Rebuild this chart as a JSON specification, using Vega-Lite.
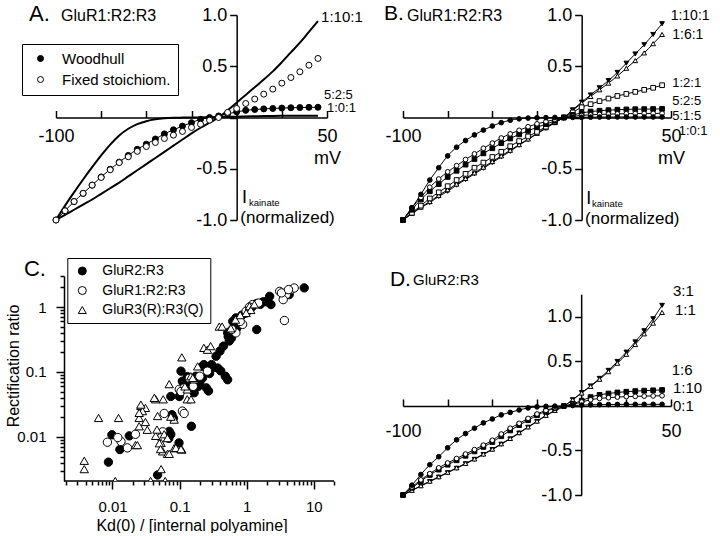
{
"$schema": "https://vega.github.io/schema/vega-lite/v6.json",
"padding": {"left": 5, "top": 3, "right": 0, "bottom": 0},
"bounds": "flush",
"columns": 2,
"spacing": {"row": 56, "column": 69},
"config": {"font": "Liberation Sans", "view": {"stroke": null}, "axis": {"grid": false, "domainColor": "black", "tickColor": "black", "labelColor": "black", "titleColor": "black", "labelFont": "Liberation Sans", "titleFont": "Liberation Sans", "titleFontWeight": "normal", "labelFlush": false, "labelOverlap": false, "domainWidth": 1.5, "tickWidth": 1.5}, "legend": {"labelFont": "Liberation Sans", "labelColor": "black"}},
"resolve": {"scale": {"fill": "independent", "shape": "independent", "stroke": "independent"}},
"datasets": {
"one": [{}],
"aL": [
{"s":"1:10:1","v":-100,"i":-1},{"s":"1:10:1","v":-95,"i":-0.95},{"s":"1:10:1","v":-90,"i":-0.9},{"s":"1:10:1","v":-85,"i":-0.85},{"s":"1:10:1","v":-80,"i":-0.8},{"s":"1:10:1","v":-75,"i":-0.745},{"s":"1:10:1","v":-70,"i":-0.69},{"s":"1:10:1","v":-65,"i":-0.635},{"s":"1:10:1","v":-60,"i":-0.575},{"s":"1:10:1","v":-55,"i":-0.515},{"s":"1:10:1","v":-50,"i":-0.455},{"s":"1:10:1","v":-45,"i":-0.395},{"s":"1:10:1","v":-40,"i":-0.335},{"s":"1:10:1","v":-35,"i":-0.275},{"s":"1:10:1","v":-30,"i":-0.215},{"s":"1:10:1","v":-25,"i":-0.155},{"s":"1:10:1","v":-20,"i":-0.1},{"s":"1:10:1","v":-15,"i":-0.05},{"s":"1:10:1","v":-10,"i":0},{"s":"1:10:1","v":-5,"i":0.07},{"s":"1:10:1","v":0,"i":0.145},{"s":"1:10:1","v":5,"i":0.22},{"s":"1:10:1","v":10,"i":0.295},{"s":"1:10:1","v":15,"i":0.37},{"s":"1:10:1","v":20,"i":0.45},{"s":"1:10:1","v":25,"i":0.54},{"s":"1:10:1","v":30,"i":0.635},{"s":"1:10:1","v":35,"i":0.73},{"s":"1:10:1","v":40,"i":0.835},{"s":"1:10:1","v":45,"i":0.94},
{"s":"1:0:1","v":-100,"i":-1},{"s":"1:0:1","v":-95,"i":-0.86},{"s":"1:0:1","v":-90,"i":-0.73},{"s":"1:0:1","v":-85,"i":-0.605},{"s":"1:0:1","v":-80,"i":-0.485},{"s":"1:0:1","v":-75,"i":-0.37},{"s":"1:0:1","v":-70,"i":-0.265},{"s":"1:0:1","v":-65,"i":-0.175},{"s":"1:0:1","v":-60,"i":-0.11},{"s":"1:0:1","v":-55,"i":-0.065},{"s":"1:0:1","v":-50,"i":-0.036},{"s":"1:0:1","v":-45,"i":-0.018},{"s":"1:0:1","v":-40,"i":-0.008},{"s":"1:0:1","v":-35,"i":-0.003},{"s":"1:0:1","v":-30,"i":-0.001},{"s":"1:0:1","v":-25,"i":0},{"s":"1:0:1","v":-20,"i":0.001},{"s":"1:0:1","v":-15,"i":0.002},{"s":"1:0:1","v":-10,"i":0.004},{"s":"1:0:1","v":-5,"i":0.006},{"s":"1:0:1","v":0,"i":0.008},{"s":"1:0:1","v":5,"i":0.01},{"s":"1:0:1","v":10,"i":0.012},{"s":"1:0:1","v":15,"i":0.014},{"s":"1:0:1","v":20,"i":0.015},{"s":"1:0:1","v":25,"i":0.016},{"s":"1:0:1","v":30,"i":0.017},{"s":"1:0:1","v":35,"i":0.018},{"s":"1:0:1","v":40,"i":0.018},{"s":"1:0:1","v":45,"i":0.018}
],
"aP": [
{"s":"Woodhull","v":-100,"i":-1},{"s":"Woodhull","v":-95,"i":-0.91},{"s":"Woodhull","v":-90,"i":-0.82},{"s":"Woodhull","v":-85,"i":-0.74},{"s":"Woodhull","v":-80,"i":-0.66},{"s":"Woodhull","v":-75,"i":-0.58},{"s":"Woodhull","v":-70,"i":-0.505},{"s":"Woodhull","v":-65,"i":-0.435},{"s":"Woodhull","v":-60,"i":-0.37},{"s":"Woodhull","v":-55,"i":-0.31},{"s":"Woodhull","v":-50,"i":-0.26},{"s":"Woodhull","v":-45,"i":-0.21},{"s":"Woodhull","v":-40,"i":-0.16},{"s":"Woodhull","v":-35,"i":-0.12},{"s":"Woodhull","v":-30,"i":-0.084},{"s":"Woodhull","v":-25,"i":-0.05},{"s":"Woodhull","v":-20,"i":-0.018},{"s":"Woodhull","v":-15,"i":0},{"s":"Woodhull","v":-10,"i":0.015},{"s":"Woodhull","v":-5,"i":0.035},{"s":"Woodhull","v":0,"i":0.055},{"s":"Woodhull","v":5,"i":0.07},{"s":"Woodhull","v":10,"i":0.078},{"s":"Woodhull","v":15,"i":0.084},{"s":"Woodhull","v":20,"i":0.088},{"s":"Woodhull","v":25,"i":0.092},{"s":"Woodhull","v":30,"i":0.095},{"s":"Woodhull","v":35,"i":0.097},{"s":"Woodhull","v":40,"i":0.099},{"s":"Woodhull","v":45,"i":0.1},
{"s":"Fixed stoichiom.","v":-100,"i":-1},{"s":"Fixed stoichiom.","v":-95,"i":-0.91},{"s":"Fixed stoichiom.","v":-90,"i":-0.82},{"s":"Fixed stoichiom.","v":-85,"i":-0.74},{"s":"Fixed stoichiom.","v":-80,"i":-0.66},{"s":"Fixed stoichiom.","v":-75,"i":-0.585},{"s":"Fixed stoichiom.","v":-70,"i":-0.51},{"s":"Fixed stoichiom.","v":-65,"i":-0.44},{"s":"Fixed stoichiom.","v":-60,"i":-0.383},{"s":"Fixed stoichiom.","v":-55,"i":-0.33},{"s":"Fixed stoichiom.","v":-50,"i":-0.283},{"s":"Fixed stoichiom.","v":-45,"i":-0.244},{"s":"Fixed stoichiom.","v":-40,"i":-0.205},{"s":"Fixed stoichiom.","v":-35,"i":-0.172},{"s":"Fixed stoichiom.","v":-30,"i":-0.136},{"s":"Fixed stoichiom.","v":-25,"i":-0.097},{"s":"Fixed stoichiom.","v":-20,"i":-0.065},{"s":"Fixed stoichiom.","v":-15,"i":-0.026},{"s":"Fixed stoichiom.","v":-10,"i":0},{"s":"Fixed stoichiom.","v":-5,"i":0.05},{"s":"Fixed stoichiom.","v":0,"i":0.088},{"s":"Fixed stoichiom.","v":5,"i":0.137},{"s":"Fixed stoichiom.","v":10,"i":0.18},{"s":"Fixed stoichiom.","v":15,"i":0.228},{"s":"Fixed stoichiom.","v":20,"i":0.277},{"s":"Fixed stoichiom.","v":25,"i":0.335},{"s":"Fixed stoichiom.","v":30,"i":0.39},{"s":"Fixed stoichiom.","v":35,"i":0.446},{"s":"Fixed stoichiom.","v":40,"i":0.51},{"s":"Fixed stoichiom.","v":45,"i":0.576}
],
"b": [
{"s":"1:10:1","v":-100,"i":-1},{"s":"1:10:1","v":-95,"i":-0.94},{"s":"1:10:1","v":-90,"i":-0.88},{"s":"1:10:1","v":-85,"i":-0.83},{"s":"1:10:1","v":-80,"i":-0.77},{"s":"1:10:1","v":-75,"i":-0.72},{"s":"1:10:1","v":-70,"i":-0.66},{"s":"1:10:1","v":-65,"i":-0.605},{"s":"1:10:1","v":-60,"i":-0.55},{"s":"1:10:1","v":-55,"i":-0.495},{"s":"1:10:1","v":-50,"i":-0.44},{"s":"1:10:1","v":-45,"i":-0.385},{"s":"1:10:1","v":-40,"i":-0.33},{"s":"1:10:1","v":-35,"i":-0.27},{"s":"1:10:1","v":-30,"i":-0.215},{"s":"1:10:1","v":-25,"i":-0.16},{"s":"1:10:1","v":-20,"i":-0.105},{"s":"1:10:1","v":-15,"i":-0.05},{"s":"1:10:1","v":-10,"i":0},{"s":"1:10:1","v":-5,"i":0.075},{"s":"1:10:1","v":0,"i":0.15},{"s":"1:10:1","v":5,"i":0.22},{"s":"1:10:1","v":10,"i":0.29},{"s":"1:10:1","v":15,"i":0.36},{"s":"1:10:1","v":20,"i":0.44},{"s":"1:10:1","v":25,"i":0.53},{"s":"1:10:1","v":30,"i":0.62},{"s":"1:10:1","v":35,"i":0.71},{"s":"1:10:1","v":40,"i":0.81},{"s":"1:10:1","v":45,"i":0.915},
{"s":"1:6:1","v":-100,"i":-1},{"s":"1:6:1","v":-95,"i":-0.935},{"s":"1:6:1","v":-90,"i":-0.875},{"s":"1:6:1","v":-85,"i":-0.82},{"s":"1:6:1","v":-80,"i":-0.76},{"s":"1:6:1","v":-75,"i":-0.705},{"s":"1:6:1","v":-70,"i":-0.65},{"s":"1:6:1","v":-65,"i":-0.595},{"s":"1:6:1","v":-60,"i":-0.54},{"s":"1:6:1","v":-55,"i":-0.485},{"s":"1:6:1","v":-50,"i":-0.43},{"s":"1:6:1","v":-45,"i":-0.375},{"s":"1:6:1","v":-40,"i":-0.32},{"s":"1:6:1","v":-35,"i":-0.265},{"s":"1:6:1","v":-30,"i":-0.21},{"s":"1:6:1","v":-25,"i":-0.155},{"s":"1:6:1","v":-20,"i":-0.1},{"s":"1:6:1","v":-15,"i":-0.05},{"s":"1:6:1","v":-10,"i":0},{"s":"1:6:1","v":-5,"i":0.07},{"s":"1:6:1","v":0,"i":0.14},{"s":"1:6:1","v":5,"i":0.205},{"s":"1:6:1","v":10,"i":0.27},{"s":"1:6:1","v":15,"i":0.335},{"s":"1:6:1","v":20,"i":0.405},{"s":"1:6:1","v":25,"i":0.48},{"s":"1:6:1","v":30,"i":0.555},{"s":"1:6:1","v":35,"i":0.63},{"s":"1:6:1","v":40,"i":0.72},{"s":"1:6:1","v":45,"i":0.81},
{"s":"1:2:1","v":-100,"i":-1},{"s":"1:2:1","v":-95,"i":-0.93},{"s":"1:2:1","v":-90,"i":-0.86},{"s":"1:2:1","v":-85,"i":-0.79},{"s":"1:2:1","v":-80,"i":-0.73},{"s":"1:2:1","v":-75,"i":-0.67},{"s":"1:2:1","v":-70,"i":-0.61},{"s":"1:2:1","v":-65,"i":-0.55},{"s":"1:2:1","v":-60,"i":-0.49},{"s":"1:2:1","v":-55,"i":-0.44},{"s":"1:2:1","v":-50,"i":-0.385},{"s":"1:2:1","v":-45,"i":-0.335},{"s":"1:2:1","v":-40,"i":-0.28},{"s":"1:2:1","v":-35,"i":-0.23},{"s":"1:2:1","v":-30,"i":-0.185},{"s":"1:2:1","v":-25,"i":-0.14},{"s":"1:2:1","v":-20,"i":-0.09},{"s":"1:2:1","v":-15,"i":-0.045},{"s":"1:2:1","v":-10,"i":0},{"s":"1:2:1","v":-5,"i":0.05},{"s":"1:2:1","v":0,"i":0.1},{"s":"1:2:1","v":5,"i":0.13},{"s":"1:2:1","v":10,"i":0.16},{"s":"1:2:1","v":15,"i":0.185},{"s":"1:2:1","v":20,"i":0.21},{"s":"1:2:1","v":25,"i":0.23},{"s":"1:2:1","v":30,"i":0.25},{"s":"1:2:1","v":35,"i":0.27},{"s":"1:2:1","v":40,"i":0.29},{"s":"1:2:1","v":45,"i":0.315},
{"s":"5:2:5","v":-100,"i":-1},{"s":"5:2:5","v":-95,"i":-0.9},{"s":"5:2:5","v":-90,"i":-0.8},{"s":"5:2:5","v":-85,"i":-0.72},{"s":"5:2:5","v":-80,"i":-0.65},{"s":"5:2:5","v":-75,"i":-0.58},{"s":"5:2:5","v":-70,"i":-0.52},{"s":"5:2:5","v":-65,"i":-0.46},{"s":"5:2:5","v":-60,"i":-0.405},{"s":"5:2:5","v":-55,"i":-0.35},{"s":"5:2:5","v":-50,"i":-0.3},{"s":"5:2:5","v":-45,"i":-0.25},{"s":"5:2:5","v":-40,"i":-0.205},{"s":"5:2:5","v":-35,"i":-0.165},{"s":"5:2:5","v":-30,"i":-0.13},{"s":"5:2:5","v":-25,"i":-0.095},{"s":"5:2:5","v":-20,"i":-0.065},{"s":"5:2:5","v":-15,"i":-0.033},{"s":"5:2:5","v":-10,"i":0},{"s":"5:2:5","v":-5,"i":0.025},{"s":"5:2:5","v":0,"i":0.045},{"s":"5:2:5","v":5,"i":0.058},{"s":"5:2:5","v":10,"i":0.066},{"s":"5:2:5","v":15,"i":0.072},{"s":"5:2:5","v":20,"i":0.076},{"s":"5:2:5","v":25,"i":0.079},{"s":"5:2:5","v":30,"i":0.081},{"s":"5:2:5","v":35,"i":0.082},{"s":"5:2:5","v":40,"i":0.083},{"s":"5:2:5","v":45,"i":0.084},
{"s":"5:1:5","v":-100,"i":-1},{"s":"5:1:5","v":-95,"i":-0.88},{"s":"5:1:5","v":-90,"i":-0.78},{"s":"5:1:5","v":-85,"i":-0.68},{"s":"5:1:5","v":-80,"i":-0.6},{"s":"5:1:5","v":-75,"i":-0.53},{"s":"5:1:5","v":-70,"i":-0.47},{"s":"5:1:5","v":-65,"i":-0.41},{"s":"5:1:5","v":-60,"i":-0.355},{"s":"5:1:5","v":-55,"i":-0.3},{"s":"5:1:5","v":-50,"i":-0.25},{"s":"5:1:5","v":-45,"i":-0.2},{"s":"5:1:5","v":-40,"i":-0.16},{"s":"5:1:5","v":-35,"i":-0.125},{"s":"5:1:5","v":-30,"i":-0.09},{"s":"5:1:5","v":-25,"i":-0.062},{"s":"5:1:5","v":-20,"i":-0.04},{"s":"5:1:5","v":-15,"i":-0.02},{"s":"5:1:5","v":-10,"i":0},{"s":"5:1:5","v":-5,"i":0.012},{"s":"5:1:5","v":0,"i":0.02},{"s":"5:1:5","v":5,"i":0.026},{"s":"5:1:5","v":10,"i":0.03},{"s":"5:1:5","v":15,"i":0.033},{"s":"5:1:5","v":20,"i":0.035},{"s":"5:1:5","v":25,"i":0.037},{"s":"5:1:5","v":30,"i":0.038},{"s":"5:1:5","v":35,"i":0.039},{"s":"5:1:5","v":40,"i":0.04},{"s":"5:1:5","v":45,"i":0.04},
{"s":"1:0:1","v":-100,"i":-1},{"s":"1:0:1","v":-95,"i":-0.88},{"s":"1:0:1","v":-90,"i":-0.75},{"s":"1:0:1","v":-85,"i":-0.61},{"s":"1:0:1","v":-80,"i":-0.49},{"s":"1:0:1","v":-75,"i":-0.375},{"s":"1:0:1","v":-70,"i":-0.29},{"s":"1:0:1","v":-65,"i":-0.225},{"s":"1:0:1","v":-60,"i":-0.17},{"s":"1:0:1","v":-55,"i":-0.123},{"s":"1:0:1","v":-50,"i":-0.083},{"s":"1:0:1","v":-45,"i":-0.05},{"s":"1:0:1","v":-40,"i":-0.027},{"s":"1:0:1","v":-35,"i":-0.013},{"s":"1:0:1","v":-30,"i":-0.006},{"s":"1:0:1","v":-25,"i":-0.003},{"s":"1:0:1","v":-20,"i":-0.001},{"s":"1:0:1","v":-15,"i":0},{"s":"1:0:1","v":-10,"i":0},{"s":"1:0:1","v":-5,"i":0.001},{"s":"1:0:1","v":0,"i":0.002},{"s":"1:0:1","v":5,"i":0.003},{"s":"1:0:1","v":10,"i":0.004},{"s":"1:0:1","v":15,"i":0.004},{"s":"1:0:1","v":20,"i":0.005},{"s":"1:0:1","v":25,"i":0.005},{"s":"1:0:1","v":30,"i":0.005},{"s":"1:0:1","v":35,"i":0.005},{"s":"1:0:1","v":40,"i":0.005},{"s":"1:0:1","v":45,"i":0.005}
],
"d": [
{"s":"3:1","v":-100,"i":-1},{"s":"3:1","v":-95,"i":-0.95},{"s":"3:1","v":-90,"i":-0.9},{"s":"3:1","v":-85,"i":-0.85},{"s":"3:1","v":-80,"i":-0.8},{"s":"3:1","v":-75,"i":-0.75},{"s":"3:1","v":-70,"i":-0.7},{"s":"3:1","v":-65,"i":-0.65},{"s":"3:1","v":-60,"i":-0.6},{"s":"3:1","v":-55,"i":-0.545},{"s":"3:1","v":-50,"i":-0.49},{"s":"3:1","v":-45,"i":-0.43},{"s":"3:1","v":-40,"i":-0.37},{"s":"3:1","v":-35,"i":-0.305},{"s":"3:1","v":-30,"i":-0.24},{"s":"3:1","v":-25,"i":-0.175},{"s":"3:1","v":-20,"i":-0.11},{"s":"3:1","v":-15,"i":-0.055},{"s":"3:1","v":-10,"i":-0.005},{"s":"3:1","v":-5,"i":0.07},{"s":"3:1","v":0,"i":0.15},{"s":"3:1","v":5,"i":0.225},{"s":"3:1","v":10,"i":0.31},{"s":"3:1","v":15,"i":0.4},{"s":"3:1","v":20,"i":0.5},{"s":"3:1","v":25,"i":0.605},{"s":"3:1","v":30,"i":0.72},{"s":"3:1","v":35,"i":0.845},{"s":"3:1","v":40,"i":0.98},{"s":"3:1","v":45,"i":1.13},
{"s":"1:1","v":-100,"i":-1},{"s":"1:1","v":-95,"i":-0.948},{"s":"1:1","v":-90,"i":-0.896},{"s":"1:1","v":-85,"i":-0.845},{"s":"1:1","v":-80,"i":-0.795},{"s":"1:1","v":-75,"i":-0.745},{"s":"1:1","v":-70,"i":-0.695},{"s":"1:1","v":-65,"i":-0.645},{"s":"1:1","v":-60,"i":-0.595},{"s":"1:1","v":-55,"i":-0.54},{"s":"1:1","v":-50,"i":-0.485},{"s":"1:1","v":-45,"i":-0.425},{"s":"1:1","v":-40,"i":-0.365},{"s":"1:1","v":-35,"i":-0.3},{"s":"1:1","v":-30,"i":-0.235},{"s":"1:1","v":-25,"i":-0.17},{"s":"1:1","v":-20,"i":-0.105},{"s":"1:1","v":-15,"i":-0.05},{"s":"1:1","v":-10,"i":0},{"s":"1:1","v":-5,"i":0.07},{"s":"1:1","v":0,"i":0.145},{"s":"1:1","v":5,"i":0.22},{"s":"1:1","v":10,"i":0.3},{"s":"1:1","v":15,"i":0.385},{"s":"1:1","v":20,"i":0.48},{"s":"1:1","v":25,"i":0.58},{"s":"1:1","v":30,"i":0.69},{"s":"1:1","v":35,"i":0.81},{"s":"1:1","v":40,"i":0.93},{"s":"1:1","v":45,"i":1.05},
{"s":"1:6","v":-100,"i":-1},{"s":"1:6","v":-95,"i":-0.92},{"s":"1:6","v":-90,"i":-0.845},{"s":"1:6","v":-85,"i":-0.775},{"s":"1:6","v":-80,"i":-0.715},{"s":"1:6","v":-75,"i":-0.66},{"s":"1:6","v":-70,"i":-0.61},{"s":"1:6","v":-65,"i":-0.56},{"s":"1:6","v":-60,"i":-0.51},{"s":"1:6","v":-55,"i":-0.46},{"s":"1:6","v":-50,"i":-0.405},{"s":"1:6","v":-45,"i":-0.34},{"s":"1:6","v":-40,"i":-0.275},{"s":"1:6","v":-35,"i":-0.215},{"s":"1:6","v":-30,"i":-0.16},{"s":"1:6","v":-25,"i":-0.105},{"s":"1:6","v":-20,"i":-0.06},{"s":"1:6","v":-15,"i":-0.025},{"s":"1:6","v":-10,"i":0},{"s":"1:6","v":-5,"i":0.025},{"s":"1:6","v":0,"i":0.06},{"s":"1:6","v":5,"i":0.1},{"s":"1:6","v":10,"i":0.125},{"s":"1:6","v":15,"i":0.14},{"s":"1:6","v":20,"i":0.152},{"s":"1:6","v":25,"i":0.16},{"s":"1:6","v":30,"i":0.167},{"s":"1:6","v":35,"i":0.172},{"s":"1:6","v":40,"i":0.176},{"s":"1:6","v":45,"i":0.18},
{"s":"1:10","v":-100,"i":-1},{"s":"1:10","v":-95,"i":-0.91},{"s":"1:10","v":-90,"i":-0.83},{"s":"1:10","v":-85,"i":-0.76},{"s":"1:10","v":-80,"i":-0.695},{"s":"1:10","v":-75,"i":-0.64},{"s":"1:10","v":-70,"i":-0.59},{"s":"1:10","v":-65,"i":-0.54},{"s":"1:10","v":-60,"i":-0.49},{"s":"1:10","v":-55,"i":-0.44},{"s":"1:10","v":-50,"i":-0.385},{"s":"1:10","v":-45,"i":-0.315},{"s":"1:10","v":-40,"i":-0.25},{"s":"1:10","v":-35,"i":-0.195},{"s":"1:10","v":-30,"i":-0.14},{"s":"1:10","v":-25,"i":-0.09},{"s":"1:10","v":-20,"i":-0.05},{"s":"1:10","v":-15,"i":-0.02},{"s":"1:10","v":-10,"i":0},{"s":"1:10","v":-5,"i":0.015},{"s":"1:10","v":0,"i":0.045},{"s":"1:10","v":5,"i":0.07},{"s":"1:10","v":10,"i":0.085},{"s":"1:10","v":15,"i":0.093},{"s":"1:10","v":20,"i":0.1},{"s":"1:10","v":25,"i":0.105},{"s":"1:10","v":30,"i":0.108},{"s":"1:10","v":35,"i":0.111},{"s":"1:10","v":40,"i":0.113},{"s":"1:10","v":45,"i":0.115},
{"s":"0:1","v":-100,"i":-1},{"s":"0:1","v":-95,"i":-0.89},{"s":"0:1","v":-90,"i":-0.77},{"s":"0:1","v":-85,"i":-0.66},{"s":"0:1","v":-80,"i":-0.57},{"s":"0:1","v":-75,"i":-0.47},{"s":"0:1","v":-70,"i":-0.38},{"s":"0:1","v":-65,"i":-0.31},{"s":"0:1","v":-60,"i":-0.25},{"s":"0:1","v":-55,"i":-0.19},{"s":"0:1","v":-50,"i":-0.146},{"s":"0:1","v":-45,"i":-0.1},{"s":"0:1","v":-40,"i":-0.072},{"s":"0:1","v":-35,"i":-0.045},{"s":"0:1","v":-30,"i":-0.022},{"s":"0:1","v":-25,"i":-0.01},{"s":"0:1","v":-20,"i":-0.005},{"s":"0:1","v":-15,"i":-0.002},{"s":"0:1","v":-10,"i":0},{"s":"0:1","v":-5,"i":0.005},{"s":"0:1","v":0,"i":0.01},{"s":"0:1","v":5,"i":0.013},{"s":"0:1","v":10,"i":0.015},{"s":"0:1","v":15,"i":0.016},{"s":"0:1","v":20,"i":0.017},{"s":"0:1","v":25,"i":0.018},{"s":"0:1","v":30,"i":0.018},{"s":"0:1","v":35,"i":0.018},{"s":"0:1","v":40,"i":0.018},{"s":"0:1","v":45,"i":0.018}
],
"c": [
{"s":"GluR2:R3","k":7.2,"r":1.97},{"s":"GluR2:R3","k":4.3,"r":1.55},{"s":"GluR2:R3","k":2.2,"r":1.46},{"s":"GluR2:R3","k":2.3,"r":1.09},{"s":"GluR2:R3","k":1.95,"r":1.22},{"s":"GluR2:R3","k":1.75,"r":1.2},{"s":"GluR2:R3","k":1.4,"r":1.13},{"s":"GluR2:R3","k":1.05,"r":0.91},{"s":"GluR2:R3","k":0.98,"r":0.81},{"s":"GluR2:R3","k":1.41,"r":0.45},{"s":"GluR2:R3","k":0.69,"r":0.68},{"s":"GluR2:R3","k":0.66,"r":0.53},{"s":"GluR2:R3","k":0.71,"r":0.47},{"s":"GluR2:R3","k":0.53,"r":0.35},{"s":"GluR2:R3","k":0.55,"r":0.3},{"s":"GluR2:R3","k":0.59,"r":0.33},{"s":"GluR2:R3","k":0.52,"r":0.4},{"s":"GluR2:R3","k":0.4,"r":0.21},{"s":"GluR2:R3","k":0.35,"r":0.175},{"s":"GluR2:R3","k":0.3,"r":0.13},{"s":"GluR2:R3","k":0.32,"r":0.118},{"s":"GluR2:R3","k":0.37,"r":0.115},{"s":"GluR2:R3","k":0.41,"r":0.104},{"s":"GluR2:R3","k":0.48,"r":0.086},{"s":"GluR2:R3","k":0.52,"r":0.076},{"s":"GluR2:R3","k":0.23,"r":0.13},{"s":"GluR2:R3","k":0.22,"r":0.122},{"s":"GluR2:R3","k":0.22,"r":0.081},{"s":"GluR2:R3","k":0.25,"r":0.057},{"s":"GluR2:R3","k":0.27,"r":0.051},{"s":"GluR2:R3","k":0.175,"r":0.086},{"s":"GluR2:R3","k":0.19,"r":0.06},{"s":"GluR2:R3","k":0.165,"r":0.048},{"s":"GluR2:R3","k":0.14,"r":0.064},{"s":"GluR2:R3","k":0.12,"r":0.072},{"s":"GluR2:R3","k":0.11,"r":0.072},{"s":"GluR2:R3","k":0.105,"r":0.103},{"s":"GluR2:R3","k":0.099,"r":0.042},{"s":"GluR2:R3","k":0.074,"r":0.042},{"s":"GluR2:R3","k":0.15,"r":0.0146},{"s":"GluR2:R3","k":0.077,"r":0.022},{"s":"GluR2:R3","k":0.081,"r":0.0195},{"s":"GluR2:R3","k":0.074,"r":0.011},{"s":"GluR2:R3","k":0.07,"r":0.0122},{"s":"GluR2:R3","k":0.069,"r":0.0095},{"s":"GluR2:R3","k":0.098,"r":0.0081},{"s":"GluR2:R3","k":0.047,"r":0.0026},{"s":"GluR2:R3","k":0.0178,"r":0.0104},{"s":"GluR2:R3","k":0.0129,"r":0.0064},{"s":"GluR2:R3","k":0.0098,"r":0.0108},{"s":"GluR2:R3","k":0.0087,"r":0.0041},{"s":"GluR2:R3","k":0.85,"r":0.75},{"s":"GluR2:R3","k":1.2,"r":1.0},{"s":"GluR2:R3","k":1.6,"r":1.1},{"s":"GluR2:R3","k":2.0,"r":1.2},{"s":"GluR2:R3","k":0.62,"r":0.6},{"s":"GluR2:R3","k":0.45,"r":0.25},{"s":"GluR2:R3","k":0.28,"r":0.095},{"s":"GluR2:R3","k":0.13,"r":0.085},{"s":"GluR2:R3","k":0.2,"r":0.068},
{"s":"GluR1:R2:R3","k":3.1,"r":1.74},{"s":"GluR1:R2:R3","k":3.9,"r":1.55},{"s":"GluR1:R2:R3","k":3.5,"r":1.3},{"s":"GluR1:R2:R3","k":4.6,"r":1.85},{"s":"GluR1:R2:R3","k":5.1,"r":1.96},{"s":"GluR1:R2:R3","k":3.3,"r":1.65},{"s":"GluR1:R2:R3","k":3.65,"r":0.62},{"s":"GluR1:R2:R3","k":4.2,"r":1.85},{"s":"GluR1:R2:R3","k":0.69,"r":0.4},{"s":"GluR1:R2:R3","k":0.87,"r":0.54},{"s":"GluR1:R2:R3","k":1.22,"r":1.09},{"s":"GluR1:R2:R3","k":0.98,"r":0.86},{"s":"GluR1:R2:R3","k":1.1,"r":1.0},{"s":"GluR1:R2:R3","k":0.8,"r":0.6},{"s":"GluR1:R2:R3","k":0.26,"r":0.103},{"s":"GluR1:R2:R3","k":0.099,"r":0.054},{"s":"GluR1:R2:R3","k":0.117,"r":0.057},{"s":"GluR1:R2:R3","k":0.11,"r":0.025},{"s":"GluR1:R2:R3","k":0.117,"r":0.023},{"s":"GluR1:R2:R3","k":0.2,"r":0.086},{"s":"GluR1:R2:R3","k":0.14,"r":0.08},{"s":"GluR1:R2:R3","k":0.0084,"r":0.0083},{"s":"GluR1:R2:R3","k":0.0134,"r":0.0085},{"s":"GluR1:R2:R3","k":0.0167,"r":0.0068},{"s":"GluR1:R2:R3","k":0.022,"r":0.011},{"s":"GluR1:R2:R3","k":0.059,"r":0.023},{"s":"GluR1:R2:R3","k":0.056,"r":0.012},{"s":"GluR1:R2:R3","k":0.053,"r":0.0097},{"s":"GluR1:R2:R3","k":0.105,"r":0.05},{"s":"GluR1:R2:R3","k":0.6,"r":0.45},{"s":"GluR1:R2:R3","k":0.16,"r":0.06},{"s":"GluR1:R2:R3","k":1.5,"r":1.15},{"s":"GluR1:R2:R3","k":0.012,"r":0.0098},
{"s":"GluR3(R):R3(Q)","k":0.0038,"r":0.0043},{"s":"GluR3(R):R3(Q)","k":0.0038,"r":0.0032},{"s":"GluR3(R):R3(Q)","k":0.0062,"r":0.0196},{"s":"GluR3(R):R3(Q)","k":0.0123,"r":0.0196},{"s":"GluR3(R):R3(Q)","k":0.011,"r":0.0021},{"s":"GluR3(R):R3(Q)","k":0.022,"r":0.0075},{"s":"GluR3(R):R3(Q)","k":0.0235,"r":0.0075},{"s":"GluR3(R):R3(Q)","k":0.025,"r":0.0196},{"s":"GluR3(R):R3(Q)","k":0.0265,"r":0.03},{"s":"GluR3(R):R3(Q)","k":0.031,"r":0.028},{"s":"GluR3(R):R3(Q)","k":0.028,"r":0.025},{"s":"GluR3(R):R3(Q)","k":0.025,"r":0.0146},{"s":"GluR3(R):R3(Q)","k":0.033,"r":0.0129},{"s":"GluR3(R):R3(Q)","k":0.031,"r":0.017},{"s":"GluR3(R):R3(Q)","k":0.044,"r":0.038},{"s":"GluR3(R):R3(Q)","k":0.057,"r":0.038},{"s":"GluR3(R):R3(Q)","k":0.047,"r":0.021},{"s":"GluR3(R):R3(Q)","k":0.044,"r":0.0104},{"s":"GluR3(R):R3(Q)","k":0.053,"r":0.0081},{"s":"GluR3(R):R3(Q)","k":0.056,"r":0.006},{"s":"GluR3(R):R3(Q)","k":0.066,"r":0.0055},{"s":"GluR3(R):R3(Q)","k":0.083,"r":0.0067},{"s":"GluR3(R):R3(Q)","k":0.108,"r":0.0064},{"s":"GluR3(R):R3(Q)","k":0.053,"r":0.0032},{"s":"GluR3(R):R3(Q)","k":0.037,"r":0.0021},{"s":"GluR3(R):R3(Q)","k":0.061,"r":0.0021},{"s":"GluR3(R):R3(Q)","k":0.07,"r":0.065},{"s":"GluR3(R):R3(Q)","k":0.083,"r":0.0185},{"s":"GluR3(R):R3(Q)","k":0.108,"r":0.168},{"s":"GluR3(R):R3(Q)","k":0.147,"r":0.086},{"s":"GluR3(R):R3(Q)","k":0.13,"r":0.054},{"s":"GluR3(R):R3(Q)","k":0.186,"r":0.122},{"s":"GluR3(R):R3(Q)","k":0.165,"r":0.077},{"s":"GluR3(R):R3(Q)","k":0.13,"r":0.038},{"s":"GluR3(R):R3(Q)","k":0.23,"r":0.235},{"s":"GluR3(R):R3(Q)","k":0.26,"r":0.22},{"s":"GluR3(R):R3(Q)","k":0.29,"r":0.25},{"s":"GluR3(R):R3(Q)","k":0.39,"r":0.5},{"s":"GluR3(R):R3(Q)","k":0.43,"r":0.5},{"s":"GluR3(R):R3(Q)","k":0.58,"r":0.47},{"s":"GluR3(R):R3(Q)","k":1.1,"r":1.03},{"s":"GluR3(R):R3(Q)","k":1.15,"r":0.9},{"s":"GluR3(R):R3(Q)","k":0.68,"r":0.64},{"s":"GluR3(R):R3(Q)","k":0.98,"r":0.81},{"s":"GluR3(R):R3(Q)","k":0.157,"r":0.081},{"s":"GluR3(R):R3(Q)","k":0.148,"r":0.038},{"s":"GluR3(R):R3(Q)","k":0.059,"r":0.011},{"s":"GluR3(R):R3(Q)","k":0.066,"r":0.0096},{"s":"GluR3(R):R3(Q)","k":0.046,"r":0.013},{"s":"GluR3(R):R3(Q)","k":0.05,"r":0.008},{"s":"GluR3(R):R3(Q)","k":0.052,"r":0.0065},{"s":"GluR3(R):R3(Q)","k":0.07,"r":0.0055},{"s":"GluR3(R):R3(Q)","k":0.088,"r":0.0068},{"s":"GluR3(R):R3(Q)","k":0.105,"r":0.0065},{"s":"GluR3(R):R3(Q)","k":0.025,"r":0.0235},{"s":"GluR3(R):R3(Q)","k":0.0265,"r":0.0315},{"s":"GluR3(R):R3(Q)","k":0.042,"r":0.04},{"s":"GluR3(R):R3(Q)","k":0.074,"r":0.0205},{"s":"GluR3(R):R3(Q)","k":0.12,"r":0.06},{"s":"GluR3(R):R3(Q)","k":0.8,"r":0.75},{"s":"GluR3(R):R3(Q)","k":1.3,"r":1.1}
]
},
"concat": [
{
"width": 271, "height": 205,
"layer": [
{"data": {"name": "aL"}, "mark": {"type": "line", "color": "black", "strokeWidth": 2, "interpolate": "monotone"},
 "encoding": {
  "x": {"field": "v", "type": "quantitative", "scale": {"domain": [-100, 50], "nice": false, "zero": false},
        "axis": {"orient": "bottom", "offset": -102.5, "values": [-100,-75,-50,-25,0,25,50], "labelExpr": "datum.value == -100 ? '-100' : datum.value == 50 ? '50' : ''", "tickSize": -7, "labelPadding": 17, "labelFontSize": 18, "labelAngle": 0, "title": "mV", "titleFontSize": 18, "titleAnchor": "end", "titleAlign": "center", "titlePadding": 4}},
  "y": {"field": "i", "type": "quantitative", "scale": {"domain": [-1, 1], "nice": false, "zero": false},
        "axis": {"orient": "left", "offset": -180.67, "values": [-1,-0.75,-0.5,-0.25,0,0.25,0.5,0.75,1], "labelExpr": "datum.value == 1 ? '1.0' : datum.value == 0.5 ? '0.5' : datum.value == -0.5 ? '-0.5' : datum.value == -1 ? '-1.0' : ''", "tickSize": 7, "labelPadding": 3, "labelFontSize": 18, "title": null}},
  "detail": {"field": "s"}
 }},
{"data": {"name": "aP"}, "transform": [{"filter": "datum.s == 'Woodhull'"}], "mark": {"type": "line", "color": "black", "strokeWidth": 1, "interpolate": "monotone"},
 "encoding": {"x": {"field": "v", "type": "quantitative"}, "y": {"field": "i", "type": "quantitative"}}},
{"data": {"name": "aP"}, "mark": {"type": "point", "shape": "circle", "stroke": "black", "strokeWidth": 1, "opacity": 1, "size": 36},
 "encoding": {"x": {"field": "v", "type": "quantitative"}, "y": {"field": "i", "type": "quantitative"},
  "fill": {"field": "s", "type": "nominal", "scale": {"domain": ["Woodhull", "Fixed stoichiom."], "range": ["black", "white"]},
   "legend": {"title": null, "orient": "none", "legendX": -34, "legendY": 29, "strokeColor": "black", "fillColor": "white", "padding": 7, "symbolOffset": 4, "labelOffset": 14, "rowPadding": 5, "labelFontSize": 15, "symbolSize": 36, "symbolType": "circle", "symbolStrokeColor": "black", "symbolStrokeWidth": 1}}}},
{"data": {"name": "one"}, "mark": {"type": "text", "text": "A.", "fontSize": 22, "align": "left", "baseline": "middle", "color": "black"}, "encoding": {"x": {"datum": -114.9}, "y": {"datum": 1.008}}},
{"data": {"name": "one"}, "mark": {"type": "text", "text": "GluR1:R2:R3", "fontSize": 16, "align": "left", "baseline": "middle", "color": "black"}, "encoding": {"x": {"datum": -97.2}, "y": {"datum": 0.993}}},
{"data": {"name": "one"}, "mark": {"type": "text", "text": "1:10:1", "fontSize": 15, "align": "left", "baseline": "middle", "color": "black"}, "encoding": {"x": {"datum": 46.7}, "y": {"datum": 0.983}}},
{"data": {"name": "one"}, "mark": {"type": "text", "text": "5:2:5", "fontSize": 13, "align": "left", "baseline": "middle", "color": "black"}, "encoding": {"x": {"datum": 48.3}, "y": {"datum": 0.222}}},
{"data": {"name": "one"}, "mark": {"type": "text", "text": "1:0:1", "fontSize": 13, "align": "left", "baseline": "middle", "color": "black"}, "encoding": {"x": {"datum": 50}, "y": {"datum": 0.088}}},
{"data": {"name": "one"}, "mark": {"type": "text", "text": "I", "fontSize": 18, "align": "left", "baseline": "middle", "color": "black"}, "encoding": {"x": {"datum": 3.0}, "y": {"datum": -0.787}}},
{"data": {"name": "one"}, "mark": {"type": "text", "text": "kainate", "fontSize": 9.5, "align": "left", "baseline": "middle", "color": "black"}, "encoding": {"x": {"datum": 6.8}, "y": {"datum": -0.832}}},
{"data": {"name": "one"}, "mark": {"type": "text", "text": "(normalized)", "fontSize": 17, "align": "left", "baseline": "middle", "color": "black"}, "encoding": {"x": {"datum": 2.0}, "y": {"datum": -0.978}}}
]
},
{
"width": 268, "height": 205,
"layer": [
{"data": {"name": "b"}, "mark": {"type": "line", "color": "black", "strokeWidth": 1, "interpolate": "monotone"},
 "encoding": {
  "x": {"field": "v", "type": "quantitative", "scale": {"domain": [-100, 50], "nice": false, "zero": false},
        "axis": {"orient": "bottom", "offset": -102.5, "values": [-100,-75,-50,-25,0,25,50], "labelExpr": "datum.value == -100 ? '-100' : datum.value == 50 ? '50' : ''", "tickSize": -7, "labelPadding": 17, "labelFontSize": 18, "labelAngle": 0, "title": "mV", "titleFontSize": 18, "titleAnchor": "end", "titleAlign": "center", "titlePadding": 4}},
  "y": {"field": "i", "type": "quantitative", "scale": {"domain": [-1, 1], "nice": false, "zero": false},
        "axis": {"orient": "left", "offset": -178.67, "values": [-1,-0.75,-0.5,-0.25,0,0.25,0.5,0.75,1], "labelExpr": "datum.value == 1 ? '1.0' : datum.value == 0.5 ? '0.5' : datum.value == -0.5 ? '-0.5' : datum.value == -1 ? '-1.0' : ''", "tickSize": 7, "labelPadding": 3, "labelFontSize": 18, "title": null}},
  "detail": {"field": "s"}
 }},
{"data": {"name": "b"}, "mark": {"type": "point", "stroke": "black", "strokeWidth": 1, "opacity": 1, "size": 22},
 "encoding": {"x": {"field": "v", "type": "quantitative"}, "y": {"field": "i", "type": "quantitative"},
  "shape": {"field": "s", "type": "nominal", "scale": {"domain": ["1:10:1","1:6:1","1:2:1","5:2:5","5:1:5","1:0:1"], "range": ["triangle-down","triangle-up","square","square","circle","circle"]}, "legend": null},
  "fill": {"field": "s", "type": "nominal", "scale": {"domain": ["1:10:1","1:6:1","1:2:1","5:2:5","5:1:5","1:0:1"], "range": ["black","white","white","black","white","black"]}, "legend": null}}},
{"data": {"name": "one"}, "mark": {"type": "text", "text": "B.", "fontSize": 21, "align": "left", "baseline": "middle", "color": "black"}, "encoding": {"x": {"datum": -110.6}, "y": {"datum": 1.008}}},
{"data": {"name": "one"}, "mark": {"type": "text", "text": "GluR1:R2:R3", "fontSize": 16, "align": "left", "baseline": "middle", "color": "black"}, "encoding": {"x": {"datum": -97.8}, "y": {"datum": 0.99}}},
{"data": {"name": "one"}, "mark": {"type": "text", "text": "1:10:1", "fontSize": 14, "align": "left", "baseline": "middle", "color": "black"}, "encoding": {"x": {"datum": 49.8}, "y": {"datum": 0.99}}},
{"data": {"name": "one"}, "mark": {"type": "text", "text": "1:6:1", "fontSize": 14, "align": "left", "baseline": "middle", "color": "black"}, "encoding": {"x": {"datum": 50.7}, "y": {"datum": 0.807}}},
{"data": {"name": "one"}, "mark": {"type": "text", "text": "1:2:1", "fontSize": 13, "align": "left", "baseline": "middle", "color": "black"}, "encoding": {"x": {"datum": 50.7}, "y": {"datum": 0.334}}},
{"data": {"name": "one"}, "mark": {"type": "text", "text": "5:2:5", "fontSize": 13, "align": "left", "baseline": "middle", "color": "black"}, "encoding": {"x": {"datum": 50.7}, "y": {"datum": 0.162}}},
{"data": {"name": "one"}, "mark": {"type": "text", "text": "5:1:5", "fontSize": 13, "align": "left", "baseline": "middle", "color": "black"}, "encoding": {"x": {"datum": 50.7}, "y": {"datum": 0.017}}},
{"data": {"name": "one"}, "mark": {"type": "text", "text": "1:0:1", "fontSize": 13, "align": "left", "baseline": "middle", "color": "black"}, "encoding": {"x": {"datum": 54.3}, "y": {"datum": -0.132}}},
{"data": {"name": "one"}, "mark": {"type": "text", "text": "I", "fontSize": 18, "align": "left", "baseline": "middle", "color": "black"}, "encoding": {"x": {"datum": 2.5}, "y": {"datum": -0.795}}},
{"data": {"name": "one"}, "mark": {"type": "text", "text": "kainate", "fontSize": 9.5, "align": "left", "baseline": "middle", "color": "black"}, "encoding": {"x": {"datum": 5.8}, "y": {"datum": -0.843}}},
{"data": {"name": "one"}, "mark": {"type": "text", "text": "(normalized)", "fontSize": 17, "align": "left", "baseline": "middle", "color": "black"}, "encoding": {"x": {"datum": 1.9}, "y": {"datum": -0.988}}}
]
},
{
"width": 278, "height": 205,
"layer": [
{"data": {"name": "one"}, "mark": {"type": "rule", "color": "black", "strokeWidth": 1.5}, "encoding": {
  "x": {"datum": 0.0019, "type": "quantitative", "scale": {"type": "log", "domain": [0.00144, 20], "nice": false},
        "axis": {"orient": "bottom", "domain": false, "values": [0.002,0.003,0.004,0.005,0.006,0.007,0.008,0.009,0.01,0.02,0.03,0.04,0.05,0.06,0.07,0.08,0.09,0.1,0.2,0.3,0.4,0.5,0.6,0.7,0.8,0.9,1,2,3,4,5,6,7,8,9,10,20], "labelExpr": "datum.value == 0.01 ? '0.01' : datum.value == 0.1 ? '0.1' : datum.value == 1 ? '1' : datum.value == 10 ? '10' : ''", "tickSize": {"condition": {"test": "datum.value == 0.01 || datum.value == 0.1 || datum.value == 1 || datum.value == 10", "value": 8}, "value": 4}, "labelPadding": 10, "labelFontSize": 15, "labelAngle": 0, "title": "Kd(0) / [internal polyamine]", "titleFontSize": 16, "titlePadding": 3, "titleX": 135.5, "titleAlign": "center"}},
  "x2": {"datum": 20},
  "y": {"datum": 0.0021, "type": "quantitative", "scale": {"type": "log", "domain": [0.0021, 3], "nice": false},
        "axis": {"orient": "left", "offset": -8, "values": [0.003,0.004,0.005,0.006,0.007,0.008,0.009,0.01,0.02,0.03,0.04,0.05,0.06,0.07,0.08,0.09,0.1,0.2,0.3,0.4,0.5,0.6,0.7,0.8,0.9,1,2,3], "labelExpr": "datum.value == 0.01 ? '0.01' : datum.value == 0.1 ? '0.1' : datum.value == 1 ? '1' : ''", "tickSize": {"condition": {"test": "datum.value == 0.01 || datum.value == 0.1 || datum.value == 1", "value": 8}, "value": 4}, "labelPadding": 10, "labelFontSize": 15, "title": "Rectification ratio", "titleFontSize": 16, "titlePadding": -5, "titleY": 89.5}}
 }},
{"data": {"name": "c"}, "mark": {"type": "point", "strokeWidth": 1, "opacity": 1, "size": 70, "clip": true},
 "encoding": {"x": {"field": "k", "type": "quantitative"}, "y": {"field": "r", "type": "quantitative"},
  "shape": {"field": "s", "type": "nominal", "scale": {"domain": ["GluR2:R3","GluR1:R2:R3","GluR3(R):R3(Q)"], "range": ["circle","circle","triangle-up"]},
   "legend": {"title": null, "orient": "none", "legendX": 11.3, "legendY": -18, "strokeColor": "black", "fillColor": "white", "padding": 6, "symbolOffset": 2, "labelOffset": 13, "rowPadding": 5.5, "labelFontSize": 14, "symbolSize": 64, "symbolStrokeWidth": 1}},
  "fill": {"field": "s", "type": "nominal", "scale": {"domain": ["GluR2:R3","GluR1:R2:R3","GluR3(R):R3(Q)"], "range": ["black","white","white"]},
   "legend": {"title": null, "orient": "none", "legendX": 11.3, "legendY": -18, "strokeColor": "black", "fillColor": "white", "padding": 6, "symbolOffset": 2, "labelOffset": 13, "rowPadding": 5.5, "labelFontSize": 14, "symbolSize": 64, "symbolStrokeWidth": 1}},
  "stroke": {"field": "s", "type": "nominal", "scale": {"domain": ["GluR2:R3","GluR1:R2:R3","GluR3(R):R3(Q)"], "range": ["black","black","black"]},
   "legend": {"title": null, "orient": "none", "legendX": 11.3, "legendY": -18, "strokeColor": "black", "fillColor": "white", "padding": 6, "symbolOffset": 2, "labelOffset": 13, "rowPadding": 5.5, "labelFontSize": 14, "symbolSize": 64, "symbolStrokeWidth": 1}}}},
{"data": {"name": "one"}, "mark": {"type": "text", "text": "C.", "fontSize": 22, "align": "left", "baseline": "middle", "color": "black"}, "encoding": {"x": {"datum": 0.00048}, "y": {"datum": 3.91}}}
]
},
{
"width": 268, "height": 219,
"layer": [
{"data": {"name": "d"}, "mark": {"type": "line", "color": "black", "strokeWidth": 1, "interpolate": "monotone"},
 "encoding": {
  "x": {"field": "v", "type": "quantitative", "scale": {"domain": [-100, 50], "nice": false, "zero": false},
        "axis": {"orient": "bottom", "offset": -89, "values": [-100,-75,-50,-25,0,25,50], "labelExpr": "datum.value == -100 ? '-100' : datum.value == 50 ? '50' : ''", "tickSize": -7, "labelPadding": 23, "labelFontSize": 18, "labelAngle": 0, "title": null}},
  "y": {"field": "i", "type": "quantitative", "scale": {"domain": [-1, 1.46], "nice": false, "zero": false},
        "axis": {"orient": "left", "offset": -178.67, "domain": false, "values": [-1,-0.75,-0.5,-0.25,0,0.25,0.5,0.75,1,1.25], "labelExpr": "datum.value == 1 ? '1.0' : datum.value == 0.5 ? '0.5' : datum.value == -0.5 ? '-0.5' : datum.value == -1 ? '-1.0' : ''", "tickSize": 7, "labelPadding": 3, "labelFontSize": 18, "title": null}},
  "detail": {"field": "s"}
 }},
{"data": {"name": "one"}, "mark": {"type": "rule", "color": "black", "strokeWidth": 1.5}, "encoding": {"x": {"datum": 0}, "y": {"datum": -1}, "y2": {"datum": 1.25}}},
{"data": {"name": "d"}, "mark": {"type": "point", "stroke": "black", "strokeWidth": 1, "opacity": 1, "size": 22},
 "encoding": {"x": {"field": "v", "type": "quantitative"}, "y": {"field": "i", "type": "quantitative"},
  "shape": {"field": "s", "type": "nominal", "scale": {"domain": ["3:1","1:1","1:6","1:10","0:1"], "range": ["triangle-down","triangle-up","square","circle","circle"]}, "legend": null},
  "fill": {"field": "s", "type": "nominal", "scale": {"domain": ["3:1","1:1","1:6","1:10","0:1"], "range": ["black","white","black","white","black"]}, "legend": null}}},
{"data": {"name": "one"}, "mark": {"type": "text", "text": "D.", "fontSize": 21, "align": "left", "baseline": "middle", "color": "black"}, "encoding": {"x": {"datum": -107.3}, "y": {"datum": 1.41}}},
{"data": {"name": "one"}, "mark": {"type": "text", "text": "GluR2:R3", "fontSize": 15, "align": "left", "baseline": "middle", "color": "black"}, "encoding": {"x": {"datum": -94.4}, "y": {"datum": 1.41}}},
{"data": {"name": "one"}, "mark": {"type": "text", "text": "3:1", "fontSize": 15, "align": "left", "baseline": "middle", "color": "black"}, "encoding": {"x": {"datum": 51.1}, "y": {"datum": 1.291}}},
{"data": {"name": "one"}, "mark": {"type": "text", "text": "1:1", "fontSize": 15, "align": "left", "baseline": "middle", "color": "black"}, "encoding": {"x": {"datum": 52.2}, "y": {"datum": 1.077}}},
{"data": {"name": "one"}, "mark": {"type": "text", "text": "1:6", "fontSize": 15, "align": "left", "baseline": "middle", "color": "black"}, "encoding": {"x": {"datum": 50.4}, "y": {"datum": 0.403}}},
{"data": {"name": "one"}, "mark": {"type": "text", "text": "1:10", "fontSize": 15, "align": "left", "baseline": "middle", "color": "black"}, "encoding": {"x": {"datum": 51.1}, "y": {"datum": 0.201}}},
{"data": {"name": "one"}, "mark": {"type": "text", "text": "0:1", "fontSize": 15, "align": "left", "baseline": "middle", "color": "black"}, "encoding": {"x": {"datum": 51.1}, "y": {"datum": 0.0}}}
]
}
]
}
